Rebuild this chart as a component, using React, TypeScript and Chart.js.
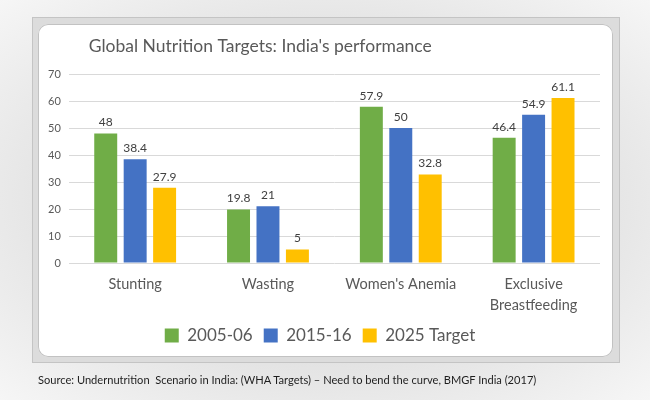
import React, { useEffect, useRef } from "react";
import { Chart, registerables } from "chart.js";

Chart.register(...registerables);

const categories: (string | string[])[] = ["Stunting", "Wasting", "Women's Anemia", ["Exclusive", "Breastfeeding"]];
const series2005 = [48, 19.8, 57.9, 46.4];
const series2015 = [38.4, 21, 50, 54.9];
const target2025 = [27.9, 5, 32.8, 61.1];
const seriesNames = ["2005-06", "2015-16", "2025 Target"];
const seriesColors = ["#70AD47", "#4472C4", "#FFC000"];
const titleText = "Global Nutrition Targets: India's performance";
const sourceText = "Source: Undernutrition  Scenario in India: (WHA Targets) \u2013 Need to bend the curve, BMGF India (2017)";
const FONT = "Lato, 'Open Sans', sans-serif";

const titlePlugin = {
  id: "leftTitle",
  afterDraw(chart: any) {
    const ctx = chart.ctx;
    ctx.save();
    ctx.font = `17.5px ${FONT}`;
    ctx.fillStyle = "#595959";
    ctx.textAlign = "left";
    ctx.textBaseline = "middle";
    ctx.fillText(titleText, chart.chartArea.left + 20, 22);
    ctx.restore();
  },
};

const valueLabels = {
  id: "valueLabels",
  afterDatasetsDraw(chart: any) {
    const ctx = chart.ctx;
    ctx.save();
    ctx.font = `12px ${FONT}`;
    ctx.fillStyle = "#404040";
    ctx.textAlign = "center";
    ctx.textBaseline = "bottom";
    chart.data.datasets.forEach((ds: any, i: number) => {
      const meta = chart.getDatasetMeta(i);
      meta.data.forEach((el: any, j: number) => {
        ctx.fillText(String(ds.data[j]), el.x, el.y - 5);
      });
    });
    ctx.restore();
  },
};

export default function App() {
  const ref = useRef<HTMLCanvasElement>(null);
  useEffect(() => {
    if (!ref.current) return;
    const values = [series2005, series2015, target2025];
    const chart = new Chart(ref.current, {
      type: "bar",
      data: {
        labels: categories,
        datasets: values.map((d, i) => ({
          label: seriesNames[i],
          data: d,
          backgroundColor: seriesColors[i],
          categoryPercentage: 0.665,
          barPercentage: 0.78,
        })),
      },
      options: {
        animation: false,
        responsive: false,
        maintainAspectRatio: false,
        layout: { padding: { top: 50, left: 2, right: 13, bottom: 3 } },
        plugins: {
          title: { display: false },
          tooltip: { enabled: false },
          legend: {
            position: "bottom",
            labels: {
              font: { size: 17, family: FONT },
              color: "#595959",
              boxWidth: 14,
              boxHeight: 14,
              padding: 11,
            },
          },
        },
        scales: {
          x: {
            grid: { display: false, drawTicks: false },
            border: { display: false },
            ticks: {
              font: { size: 14.5, family: FONT, lineHeight: 1.42 },
              color: "#595959",
              padding: 11,
            },
            afterFit: (scale: any) => {
              scale.height = 53;
            },
          },
          y: {
            min: 0,
            max: 70,
            ticks: { stepSize: 10, font: { size: 11, family: FONT }, color: "#595959", padding: 8 },
            grid: { color: "#d9d9d9", drawTicks: false },
            border: { display: false },
          },
        },
      },
      plugins: [titlePlugin, valueLabels],
    });
    return () => chart.destroy();
  }, []);

  return (
    <div
      style={{
        position: "fixed",
        left: 0,
        top: 0,
        width: 650,
        height: 400,
        background: "radial-gradient(ellipse at center, #e2e2e2 55%, #f6f6f6 100%)",
        fontFamily: FONT,
      }}
    >
      <div
        style={{
          position: "absolute",
          left: 32,
          top: 17,
          width: 586,
          height: 344,
          background: "#dcdcdc",
          border: "1px solid #c4c4c4",
        }}
      >
        <div
          style={{
            position: "absolute",
            left: 5,
            top: 6,
            width: 575,
            height: 333,
            background: "#ffffff",
            borderRadius: 10,
            overflow: "hidden",
            boxShadow: "inset 0 0 0 1px #c2c2c2",
          }}
        >
          <canvas ref={ref} width={575} height={333} style={{ display: "block" }} />
        </div>
      </div>
      <div
        style={{
          position: "absolute",
          left: 38,
          top: 373,
          fontSize: 11.1,
          color: "#1e1e1e",
          whiteSpace: "pre",
        }}
      >
        {sourceText}
      </div>
    </div>
  );
}
